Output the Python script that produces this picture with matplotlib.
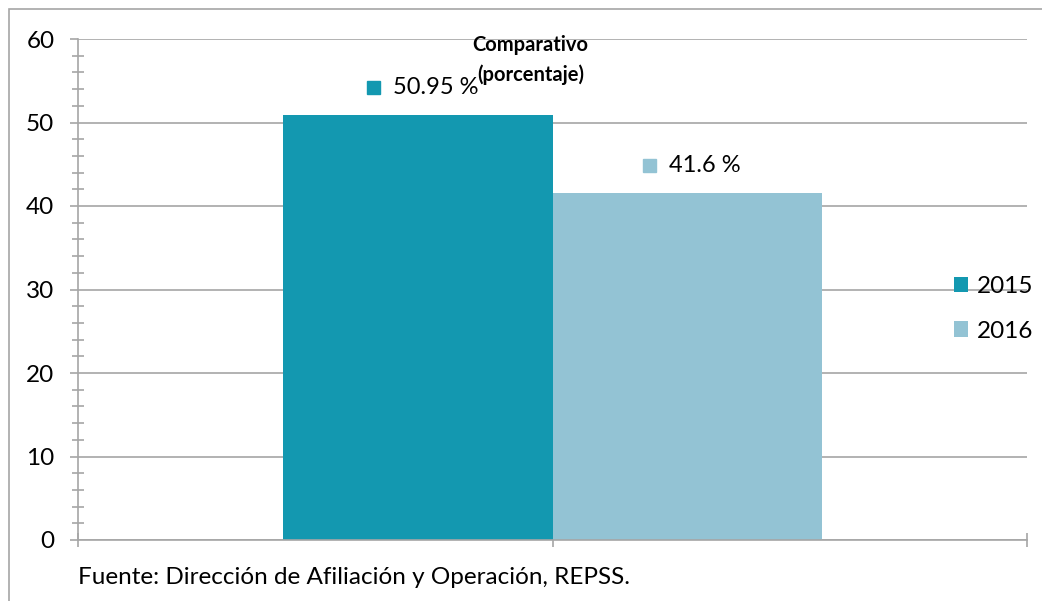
import numpy as np
import matplotlib
matplotlib.use('Agg')
import matplotlib.pyplot as plt
from matplotlib.patches import Rectangle
from matplotlib.offsetbox import HPacker, TextArea, DrawingArea, AnnotationBbox

plt.rcParams['font.family'] = ['Lato', 'DejaVu Sans']

series = ['2015', '2016']
values = [50.95, 41.6]
labels = ['50.95 %', '41.6 %']
colors = ['#1398B0', '#93C3D4']
yticks = [0, 10, 20, 30, 40, 50, 60]
title = 'Comparativo\n(porcentaje)'
source = 'Fuente: Dirección de Afiliación y Operación, REPSS.'

fig = plt.figure(figsize=(10.42, 6.01), dpi=100)
ax = fig.add_axes([78/1042, 1-540/601, (1027-78)/1042, (540-39)/601])

# one category group centred at x=1, two bars side by side
width = 0.567
xs = [1 - width/2, 1 + width/2]
bars = ax.bar(xs, values, width=width, color=colors, label=series, zorder=2)

ax.set_xlim(0, 2)
ax.set_ylim(0, 60)
ax.set_yticks(yticks)
ax.set_yticks(np.arange(0, 61, 2), minor=True)
ax.set_xticks([0, 1, 2])
ax.set_xticklabels([])
ax.grid(axis='y', color='#A6A6A6', lw=1.2, zorder=0)
for s in ['top', 'right']:
    ax.spines[s].set_visible(False)
for s in ['left', 'bottom']:
    ax.spines[s].set_color('#A6A6A6')
    ax.spines[s].set_linewidth(1.2)
    ax.spines[s].set_zorder(3)
ax.tick_params(axis='y', which='major', length=6, color='#A6A6A6', width=1.2,
               labelsize=17.5, pad=11)
ax.tick_params(axis='y', which='minor', direction='inout', length=8.6,
               color='#A6A6A6', width=1.2)
ax.tick_params(axis='x', which='major', direction='inout', length=10,
               color='#A6A6A6', width=1.2)

# data labels with colour key
for b, lab, c in zip(bars, labels, colors):
    da = DrawingArea(9, 9, 0, 0)
    da.add_artist(Rectangle((0, 0), 9, 9, color=c))
    ta = TextArea(lab, textprops=dict(fontsize=17, color='#000000'))
    box = HPacker(children=[da, ta], align='center', pad=0, sep=10)
    ab = AnnotationBbox(box, (b.get_x() + b.get_width()/2, b.get_height()),
                        xybox=(5, 27), boxcoords='offset pixels',
                        frameon=False, box_alignment=(0.5, 0.5))
    ax.add_artist(ab)

ax.text(0.477, 0.958, title, transform=ax.transAxes, ha='center', va='center',
        fontsize=14.5, fontweight='bold', linespacing=1.55)

ax.legend(loc='center left', bbox_to_anchor=(954/1042, 1-309/601),
          bbox_transform=fig.transFigure, frameon=False, fontsize=17.5,
          handlelength=0.58, handleheight=0.58, handletextpad=0.35,
          labelspacing=0.95, borderpad=0, borderaxespad=0)

fig.text(78/1042, 1-577/601, source, fontsize=17.5, va='center', ha='left')

fig.add_artist(Rectangle((9/1042, -0.1), 1.2, 1.1 - 9/601,
                         transform=fig.transFigure, fill=False,
                         edgecolor='#A6A6A6', lw=1.2, clip_on=False))

fig.savefig('out.png', dpi=100)
